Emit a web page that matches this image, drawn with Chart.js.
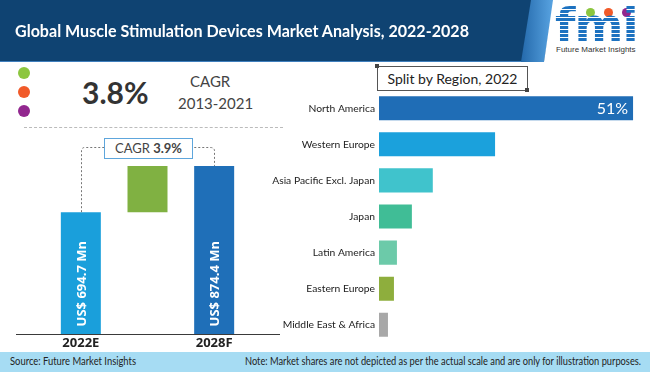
<!DOCTYPE html>
<html>
<head>
<meta charset="utf-8">
<script src="https://cdn.jsdelivr.net/npm/chart.js@4"></script>
<style>
  body { margin: 0; width: 650px; height: 372px; position: relative; overflow: hidden; background: #fff; font-family: Lato, "Open Sans", sans-serif; color: #333; }
  .abs { position: absolute; }
  #header { left: 0; top: 0; width: 650px; height: 61px; background: #0f4372; border-bottom: 1px solid #3f7fbd; }
  #title { left: 15px; top: 20px; color: #fff; font-weight: bold; font-size: 17px; white-space: nowrap; }
  #stripe { left: 518px; top: 0; width: 36px; height: 62px; background: linear-gradient(90deg, #1f64a6, #5aa5e3); clip-path: polygon(13px 0, 36px 0, 26px 100%, 3px 100%); }
  #logoBox { left: 540px; top: 0; width: 110px; height: 62px; background: #fff; clip-path: polygon(13px 0, 100% 0, 100% 100%, 4px 100%); }
  #fmi { left: 555px; top: 2px; font-family: "DejaVu Sans", sans-serif; font-weight: bold; font-size: 47px; line-height: 46px; letter-spacing: -1px;
         background: repeating-linear-gradient(180deg, #1d72c0 0 3px, #ffffff 3px 4px); -webkit-background-clip: text; background-clip: text; color: transparent; }
  #fmiText { left: 556px; top: 45px; font-size: 8px; color: #333; font-family: "Liberation Sans", sans-serif; white-space: nowrap; }
  .ldot { width: 9px; height: 9px; border-radius: 50%; top: 8px; }
  .dot { width: 12px; height: 12px; border-radius: 50%; left: 18px; }
  #bigPct { left: 82px; top: 74px; font-size: 30px; font-weight: bold; color: #333; }
  #cagrA { left: 190px; top: 72px; font-size: 15px; color: #444; }
  #cagrB { left: 178px; top: 94px; font-size: 15px; color: #444; }
  #dash { left: 24px; top: 127px; width: 259px; border-top: 1px dashed #bbb; }
  #cagrBox { left: 104px; top: 138px; width: 87px; height: 19px; border: 1px solid #5ea6dc; background: #fff; font-size: 13px; line-height: 19px; text-align: center; color: #444; }
  #splitBox { left: 377px; top: 66px; width: 149px; height: 23px; border: 1px solid #555; font-size: 14px; line-height: 23px; text-align: center; color: #222; }
  .sq { width: 4px; height: 4px; background: #444; }
  #footer { left: 0; top: 352px; width: 650px; height: 20px; background: #a6dcf3; }
  #source { left: 10px; top: 354px; font-size: 11.5px; color: #222; white-space: nowrap; }
  #note { left: 245px; top: 354px; font-size: 11.5px; color: #222; white-space: nowrap; }
  canvas { position: absolute; }
</style>
</head>
<body>
<div id="header" class="abs"></div>
<div id="stripe" class="abs"></div>
<div id="logoBox" class="abs"></div>
<div class="abs ldot" style="left:586px;background:#8cc63f"></div>
<div class="abs ldot" style="left:604px;background:#f15a29"></div>
<div class="abs ldot" style="left:622px;background:#92278f"></div>
<div id="fmi" class="abs">fmi</div>
<div id="fmiText" class="abs">Future Market Insights</div>
<div id="title" class="abs" data-fit="454">Global Muscle Stimulation Devices Market Analysis, 2022-2028</div>

<div class="abs dot" style="top:67px;background:#8cc63f"></div>
<div class="abs dot" style="top:86px;background:#f15a29"></div>
<div class="abs dot" style="top:105px;background:#92278f"></div>
<div id="bigPct" class="abs">3.8%</div>
<div id="cagrA" class="abs">CAGR</div>
<div id="cagrB" class="abs">2013-2021</div>
<div id="dash" class="abs"></div>

<canvas id="marketChart" width="290" height="222" style="left:0;top:130px"></canvas>
<div id="cagrBox" class="abs">CAGR <b>3.9%</b></div>

<div id="splitBox" class="abs">Split by Region, 2022</div>
<div class="abs sq" style="left:375px;top:64px"></div>
<div class="abs sq" style="left:525px;top:88px"></div>
<canvas id="regionChart" width="380" height="273" style="left:270px;top:80px"></canvas>

<div id="footer" class="abs"></div>
<div id="source" class="abs" data-fit="126">Source: Future Market Insights</div>
<div id="note" class="abs" data-fit="396">Note: Market shares are not depicted as per the actual scale and are only for illustration purposes.</div>

<script>
// ===== DATA =====
const yearLabels = ["2022E", "", "2028F"];
const marketStart = 694.7;   // US$ Mn, 2022E
const marketEnd = 874.4;     // US$ Mn, 2028F
const axisFloor = 220;       // value axis does not start at zero in the original

const regions = ["North America", "Western Europe", "Asia Pacific Excl. Japan", "Japan", "Latin America", "Eastern Europe", "Middle East & Africa"];
const regionShares = [51, 23.3, 10.8, 6.6, 3.6, 3.0, 1.8];

const labelFont = "Lato, 'Open Sans', sans-serif";

// squeeze the narrow-font texts to the widths of the original
document.querySelectorAll("[data-fit]").forEach(el => {
    const w = el.getBoundingClientRect().width;
    el.style.transformOrigin = "0 50%";
    el.style.transform = "scaleX(" + (el.dataset.fit / w) + ")";
});

// ===== LEFT: 2022E -> 2028F =====
const waterfallExtras = {
    id: "waterfallExtras",
    afterDatasetsDraw(chart) {
        const ctx = chart.ctx;
        const area = chart.chartArea;
        const bars = chart.getDatasetMeta(0).data;
        ctx.save();

        // base line, wider than the plot area
        ctx.strokeStyle = "#3a3a3a";
        ctx.lineWidth = 1;
        ctx.beginPath();
        ctx.moveTo(16, Math.round(area.bottom) + 0.5);
        ctx.lineTo(280, Math.round(area.bottom) + 0.5);
        ctx.stroke();

        // dotted bracket between start and end bars
        const a = bars[0], b = bars[2];
        const top = area.top + 7, r = 4;
        ctx.strokeStyle = "#777";
        ctx.setLineDash([2, 2]);
        ctx.beginPath();
        ctx.moveTo(Math.round(a.x) + 0.5, a.y);
        ctx.lineTo(Math.round(a.x) + 0.5, top + r);
        ctx.quadraticCurveTo(Math.round(a.x) + 0.5, top + 0.5, a.x + r, top + 0.5);
        ctx.lineTo(b.x - r, top + 0.5);
        ctx.quadraticCurveTo(Math.round(b.x) + 0.5, top + 0.5, Math.round(b.x) + 0.5, top + r);
        ctx.lineTo(Math.round(b.x) + 0.5, b.y);
        ctx.stroke();
        ctx.setLineDash([]);

        // value labels, rotated inside the bars
        ctx.fillStyle = "#fff";
        ctx.font = "bold 13px 'Open Sans', sans-serif";
        ctx.textAlign = "left";
        ctx.textBaseline = "middle";
        [[a, marketStart], [b, marketEnd]].forEach(([bar, v]) => {
            ctx.save();
            ctx.translate(bar.x + 1, area.bottom - 8);
            ctx.rotate(-Math.PI / 2);
            ctx.fillText("US$ " + v + " Mn", 0, 0);
            ctx.restore();
        });
        ctx.restore();
    }
};

new Chart(document.getElementById("marketChart"), {
    type: "bar",
    data: {
        labels: yearLabels,
        datasets: [{
            data: [[axisFloor, marketStart], [marketStart, marketEnd], [axisFloor, marketEnd]],
            backgroundColor: ["#1a9fdb", "#80b142", "#1f6fb8"],
            barPercentage: 0.6,
            categoryPercentage: 1
        }]
    },
    options: {
        responsive: false,
        animation: false,
        layout: { padding: { left: 47.5, right: 42.5, top: 10, bottom: 0 } },
        plugins: { legend: { display: false }, tooltip: { enabled: false } },
        scales: {
            x: {
                grid: { display: false, drawTicks: false },
                border: { display: false },
                ticks: { color: "#222", padding: 1, font: { family: "'Open Sans', sans-serif", size: 13, weight: "bold" } }
            },
            y: { display: false, min: axisFloor, max: 975 }
        }
    },
    plugins: [waterfallExtras]
});

// ===== RIGHT: split by region =====
const shareLabel = {
    id: "shareLabel",
    afterDatasetsDraw(chart) {
        const ctx = chart.ctx;
        const bar = chart.getDatasetMeta(0).data[0];
        ctx.save();
        ctx.fillStyle = "#fff";
        ctx.font = "16px " + labelFont;
        ctx.textAlign = "right";
        ctx.textBaseline = "middle";
        ctx.fillText(regionShares[0] + "%", bar.x - 5, bar.y + 1);
        ctx.restore();
    }
};

new Chart(document.getElementById("regionChart"), {
    type: "bar",
    data: {
        labels: regions,
        datasets: [{
            data: regionShares,
            backgroundColor: ["#1f6db6", "#1ba1dc", "#40c3cc", "#40bd96", "#6ccaa9", "#8eae3d", "#a8a8a8"],
            barPercentage: 0.667,
            categoryPercentage: 1
        }]
    },
    options: {
        indexAxis: "y",
        responsive: false,
        animation: false,
        layout: { padding: { left: 0, right: 2, top: 0, bottom: 0 } },
        plugins: { legend: { display: false }, tooltip: { enabled: false } },
        scales: {
            x: { display: false, min: 0, max: 54 },
            y: {
                grid: { display: false, drawTicks: false },
                border: { display: false },
                ticks: { color: "#222", padding: 4, font: { family: labelFont, size: 10.3 } },
                afterFit(scale) { scale.width = 109; }
            }
        }
    },
    plugins: [shareLabel]
});
</script>
</body>
</html>
